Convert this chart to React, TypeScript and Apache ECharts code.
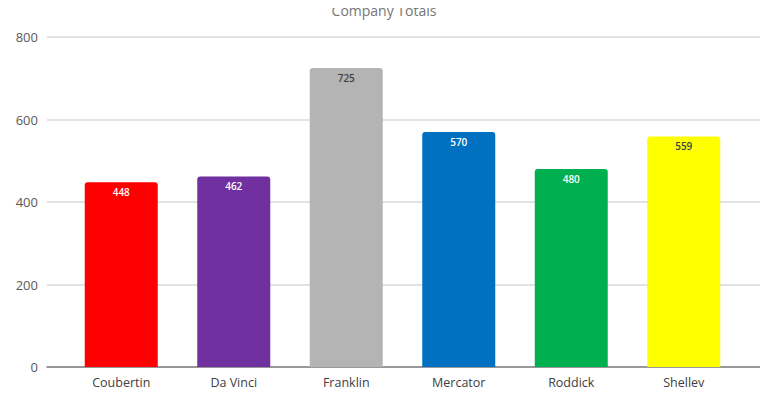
import React, { useEffect, useRef } from "react";
import * as echarts from "echarts";

const categories = ["Coubertin", "Da Vinci", "Franklin", "Mercator", "Roddick", "Shelley"];
const values = [448, 462, 725, 570, 480, 559];
const barColors = ["#FF0000", "#7030A0", "#B4B4B4", "#0070C0", "#00B050", "#FFFF00"];
const labelColors = ["#FFFFFF", "#FFFFFF", "#404040", "#FFFFFF", "#FFFFFF", "#404040"];
const yTicks = [0, 200, 400, 600, 800];

export default function App() {
  const ref = useRef<HTMLDivElement>(null);
  useEffect(() => {
    if (!ref.current) return;
    const chart = echarts.init(ref.current, null, { renderer: "svg" });
    const font = "'Open Sans', 'Noto Sans', sans-serif";
    chart.setOption({
      animation: false,
      textStyle: { fontFamily: font },
      title: {
        text: "Company Totals",
        left: "center",
        top: -2,
        textStyle: { fontSize: 14, fontWeight: "normal", color: "#757575", fontFamily: font },
      },
      grid: [
        { left: 47, right: 8, top: 37, bottom: 28 },
        { left: 65, right: 28, top: 37, bottom: 28 },
      ],
      xAxis: [
        {
          gridIndex: 0,
          type: "category",
          data: [""],
          axisLine: { show: true, lineStyle: { color: "#7F7F7F", width: 1.5 } },
          axisTick: { show: false },
          axisLabel: { show: false },
        },
        {
          gridIndex: 1,
          type: "category",
          data: categories,
          axisLine: { show: false },
          axisTick: { show: false },
          axisLabel: { color: "#404040", fontSize: 12.5, margin: 9, fontFamily: font },
        },
      ],
      yAxis: [
        {
          gridIndex: 0,
          type: "value",
          min: yTicks[0],
          max: yTicks[yTicks.length - 1],
          interval: 200,
          axisLine: { show: false },
          axisTick: { show: false },
          axisLabel: { color: "#595959", fontSize: 13, margin: 9, fontFamily: font },
          splitLine: { lineStyle: { color: "#D9D9D9", width: 1.5 } },
        },
        {
          gridIndex: 1,
          type: "value",
          min: yTicks[0],
          max: yTicks[yTicks.length - 1],
          interval: 200,
          show: false,
        },
      ],
      series: [
        {
          type: "bar",
          xAxisIndex: 1,
          yAxisIndex: 1,
          barWidth: 73,
          data: values.map((v, i) => ({
            value: v,
            itemStyle: { color: barColors[i], borderRadius: [3, 3, 0, 0] },
            label: { color: labelColors[i] },
          })),
          label: {
            show: true,
            position: "insideTop",
            distance: 5,
            fontSize: 10,
            fontWeight: 600,
            fontFamily: font,
          },
        },
      ],
    });
    return () => chart.dispose();
  }, []);
  return <div ref={ref} style={{ width: 768, height: 395, margin: -8 }} />;
}
